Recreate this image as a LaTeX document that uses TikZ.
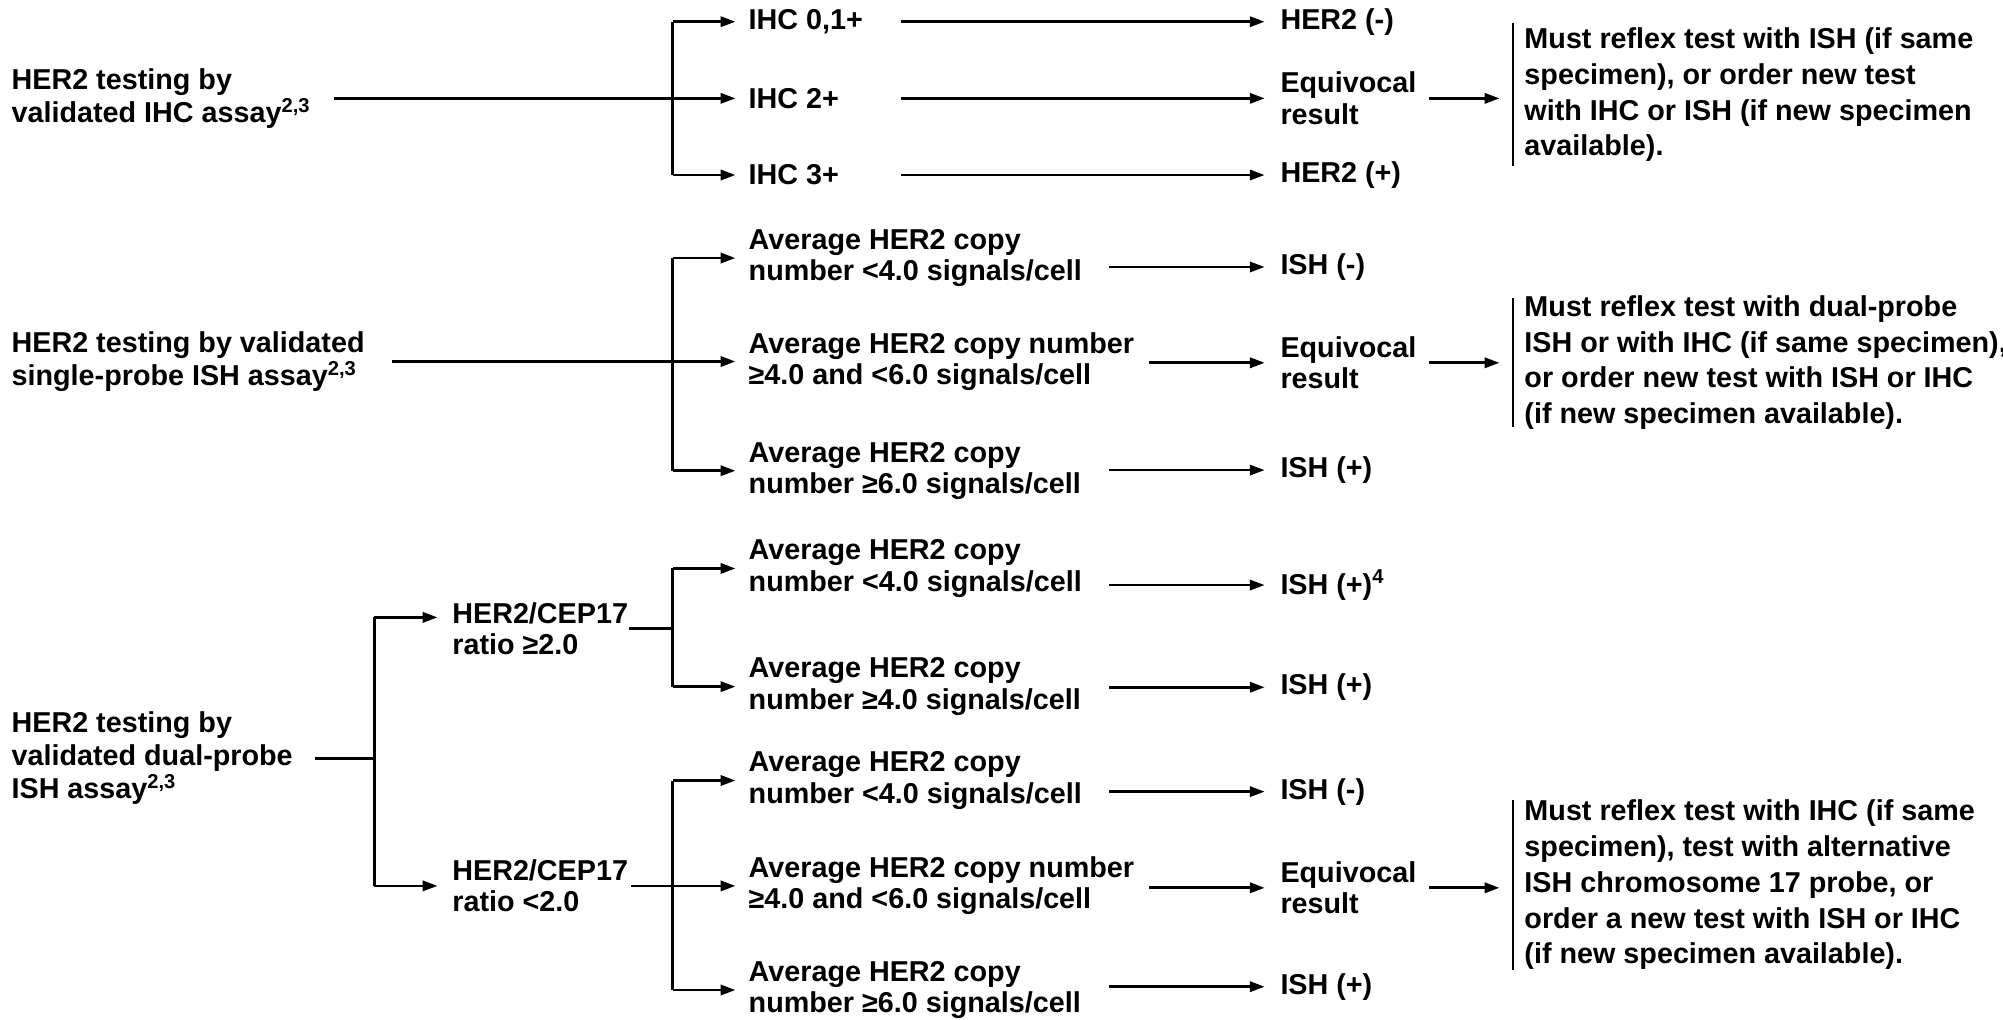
\documentclass[tikz,border=0pt]{standalone}
\usepackage{fontspec}
\setmainfont{Liberation Sans}
\usetikzlibrary{arrows.meta,calc}
\begin{document}
\begin{tikzpicture}[x=0.5pt,y=-0.5pt,
  lbl/.style={anchor=west,inner sep=0pt,align=left,font=\fontsize{11.25}{12.3}\selectfont\bfseries},
  lft/.style={lbl,font=\fontsize{11.25}{13}\selectfont\bfseries},
  note/.style={lbl,font=\fontsize{11.25}{14}\selectfont\bfseries},
  ln/.style={line width=1.05pt},
  arr/.style={ln,-{Triangle[length=5.8pt,width=4pt]}},
  brk/.style={line width=1.05pt}]
\useasboundingbox (0,0) rectangle (1568,798);
% ---------- common x positions
\coordinate (v1) at (526.7,0);
\coordinate (v2) at (292.9,0);
\coordinate (oI) at (705.3,0);
\coordinate (oA) at (868,0);
\coordinate (oB) at (899.3,0);

% ================= Section 1: IHC
\node[lft] (L1) at (8.7,77) {HER2 testing by\\validated IHC assay\textsuperscript{2,3}};
\node[lbl] (i1) at (585.7,17) {IHC 0,1+};
\node[lbl] (i2) at (585.7,77) {IHC 2+};
\node[lbl] (i3) at (585.7,137) {IHC 3+};
\node[lbl] (r1) at (1002,17) {HER2 (-)};
\node[lbl] (r2) at (1002,77) {Equivocal\\result};
\node[lbl] (r3) at (1002,137) {HER2 (+)};
\node[note] (n1) at (1193,74.3) {Must reflex test with ISH (if same\\specimen), or order new test\\with IHC or ISH (if new specimen\\available).};
\coordinate (b1) at ($(n1.west)+(-8.6,0)$);

\draw[ln] ([xshift=9pt]L1.east) -- (L1.east -| v1);
\draw[ln] (i1 -| v1) -- (i3 -| v1);
\foreach \n in {i1,i2,i3} \draw[arr] (\n -| v1) -- ([xshift=-5pt]\n.west);
\foreach \n in {r1,r2,r3} \draw[arr] (\n -| oI) -- ([xshift=-6pt]\n.west);
\draw[arr,shorten >=5.3pt] ([xshift=4.7pt]r2.east) -- (r2.east -| b1);
\draw[brk] ($(b1)+(0,-56)$) -- ($(b1)+(0,56)$);

% ================= Section 2: single-probe ISH
\node[lft] (L2) at (8.7,283) {HER2 testing by validated\\single-probe ISH assay\textsuperscript{2,3}};
\node[lbl] (s1) at (585.7,202) {Average HER2 copy\\number <4.0 signals/cell};
\node[lbl] (s2) at (585.7,283) {Average HER2 copy number\\≥4.0 and <6.0 signals/cell};
\node[lbl] (s3) at (585.7,368.5) {Average HER2 copy\\number ≥6.0 signals/cell};
\node[lbl] (t1) at (1002,209) {ISH (-)};
\node[lbl] (t2) at (1002,284) {Equivocal\\result};
\node[lbl] (t3) at (1002,368) {ISH (+)};
\node[note] (n2) at (1193,283.8) {Must reflex test with dual-probe\\ISH or with IHC (if same specimen),\\or order new test with ISH or IHC\\(if new specimen available).};
\coordinate (b2) at ($(n2.west)+(-8.6,0)$);

\draw[ln] ([xshift=10.5pt]L2.east) -- (L2.east -| v1);
\draw[ln] (s1 -| v1) -- (s3 -| v1);
\foreach \n in {s1,s2,s3} \draw[arr] (\n -| v1) -- ([xshift=-5pt]\n.west);
\draw[arr] (t1 -| oA) -- ([xshift=-6pt]t1.west);
\draw[arr] (t2 -| oB) -- ([xshift=-6pt]t2.west);
\draw[arr] (t3 -| oA) -- ([xshift=-6pt]t3.west);
\draw[arr,shorten >=5.3pt] ([xshift=4.7pt]t2.east) -- (t2.east -| b2);
\draw[brk] ($(b2)+(0,-50.2)$) -- ($(b2)+(0,50.2)$);

% ================= Section 3: dual-probe ISH
\node[lft] (L3) at (8.7,593.6) {HER2 testing by\\validated dual-probe\\ISH assay\textsuperscript{2,3}};
\node[lbl] (h1) at (353.7,492) {HER2/CEP17\\ratio ≥2.0};
\node[lbl] (h2) at (353.7,693.5) {HER2/CEP17\\ratio <2.0};
\coordinate (h1in) at ([yshift=4.35pt]h1.west);

\node[lbl] (a1) at (585.7,445) {Average HER2 copy\\number <4.0 signals/cell};
\node[lbl] (a2) at (585.7,537.5) {Average HER2 copy\\number ≥4.0 signals/cell};
\node[lbl] (a3) at (585.7,611) {Average HER2 copy\\number <4.0 signals/cell};
\node[lbl] (a4) at (585.7,693.5) {Average HER2 copy number\\≥4.0 and <6.0 signals/cell};
\node[lbl] (a5) at (585.7,775) {Average HER2 copy\\number ≥6.0 signals/cell};

\node[lbl] (u1) at (1002,458) {ISH (+)\textsuperscript{4}};
\node[lbl] (u2) at (1002,538) {ISH (+)};
\node[lbl] (u3) at (1002,619.7) {ISH (-)};
\node[lbl] (u4) at (1002,695) {Equivocal\\result};
\node[lbl] (u5) at (1002,772.4) {ISH (+)};
\node[note] (n3) at (1193,692.8) {Must reflex test with IHC (if same\\specimen), test with alternative\\ISH chromosome 17 probe, or\\order a new test with ISH or IHC\\(if new specimen available).};
\coordinate (b3) at ($(n3.west)+(-8.6,0)$);

\draw[ln] ([xshift=8.5pt]L3.east) -- (L3.east -| v2);
\draw[ln] (h1in -| v2) -- (h2.west -| v2);
\draw[arr] (h1in -| v2) -- ([xshift=-5.6pt]h1in);
\draw[arr] (h2.west -| v2) -- ([xshift=-5.6pt]h2.west);
\draw[ln] (h1.east) -- (h1.east -| v1);
\draw[ln] ([xshift=1pt]h2.east) -- (h2.east -| v1);
\draw[ln] (a1 -| v1) -- (a2 -| v1);
\draw[ln] (a3 -| v1) -- (a5 -| v1);
\foreach \n in {a1,a2,a3,a4,a5} \draw[arr] (\n -| v1) -- ([xshift=-5pt]\n.west);
\draw[arr] (u1 -| oA) -- ([xshift=-6pt]u1.west);
\draw[arr] (u2 -| oA) -- ([xshift=-6pt]u2.west);
\draw[arr] (u3 -| oA) -- ([xshift=-6pt]u3.west);
\draw[arr] (u4 -| oB) -- ([xshift=-6pt]u4.west);
\draw[arr] (u5 -| oA) -- ([xshift=-6pt]u5.west);
\draw[arr,shorten >=5.3pt] ([xshift=4.7pt]u4.east) -- (u4.east -| b3);
\draw[brk] ($(b3)+(0,-66.6)$) -- ($(b3)+(0,66.6)$);
\end{tikzpicture}
\end{document}
